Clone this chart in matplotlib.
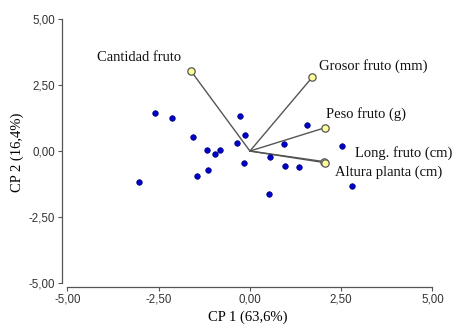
import matplotlib.pyplot as plt
from matplotlib.ticker import FuncFormatter

# observaciones (CP1, CP2)
obs_x = [-2.59, -2.13, -0.27, 1.56, -1.55, -0.13, -0.35, 0.94, 2.53, -1.19, -0.81,
         -0.95, 0.54, -0.15, 0.97, 1.34, -1.14, -1.46, -3.03, 2.80, 0.53]
obs_y = [1.43, 1.26, 1.33, 0.97, 0.54, 0.61, 0.29, 0.25, 0.18, 0.05, 0.05,
         -0.11, -0.22, -0.45, -0.58, -0.62, -0.72, -0.96, -1.17, -1.34, -1.62]

# variables (vectores)
var_names = ["Cantidad fruto", "Grosor fruto (mm)", "Peso fruto (g)",
             "Long. fruto (cm)", "Altura planta (cm)"]
var_x = [-1.62, 1.71, 2.05, 2.03, 2.05]
var_y = [3.04, 2.80, 0.88, -0.40, -0.44]
lab_x = [-4.19, 1.89, 2.08, 2.88, 2.33]
lab_y = [3.56, 3.23, 1.39, -0.06, -0.82]

ticks = [-5, -2.5, 0, 2.5, 5]

fig = plt.figure(figsize=(4.55, 3.26), dpi=100)
ax = fig.add_axes([0.1363, 0.1196, 0.818, 0.826])

for vx, vy in zip(var_x, var_y):
    ax.plot([0, vx], [0, vy], color="#555555", lw=1.0, zorder=2)
ax.scatter(obs_x, obs_y, s=16, color="#0000c8", edgecolors="#00007a", linewidths=0.5, zorder=3)
ax.scatter(var_x, var_y, s=28, color="#ffff99", edgecolors="#555555", linewidths=0.9, zorder=4)

for name, tx, ty in zip(var_names, lab_x, lab_y):
    ax.text(tx, ty, name, family="Liberation Serif", fontsize=10.5, va="center", ha="left",
            color="#111111")

ax.set_xlim(-5.15, 5.05)
ax.set_ylim(-5.15, 5.05)
ax.set_xticks(ticks)
ax.set_yticks(ticks)
fmt = FuncFormatter(lambda v, p: f"{v:.2f}".replace(".", ","))
ax.xaxis.set_major_formatter(fmt)
ax.yaxis.set_major_formatter(fmt)
for lbl in ax.get_xticklabels() + ax.get_yticklabels():
    lbl.set_family("Liberation Sans")
    lbl.set_fontsize(8.3)
    lbl.set_color("#333333")
ax.tick_params(length=3, width=0.8, color="#555555", pad=2)

ax.spines["top"].set_visible(False)
ax.spines["right"].set_visible(False)
ax.spines["left"].set_bounds(-5, 5)
ax.spines["bottom"].set_bounds(-5, 5)
for s in ("left", "bottom"):
    ax.spines[s].set_color("#555555")
    ax.spines[s].set_linewidth(0.9)

ax.set_xlabel("CP 1 (63,6%)", family="Liberation Serif", fontsize=10.5, labelpad=3)
ax.set_ylabel("CP 2 (16,4%)", family="Liberation Serif", fontsize=10.5, labelpad=3)

fig.savefig("out.png", dpi=100)
